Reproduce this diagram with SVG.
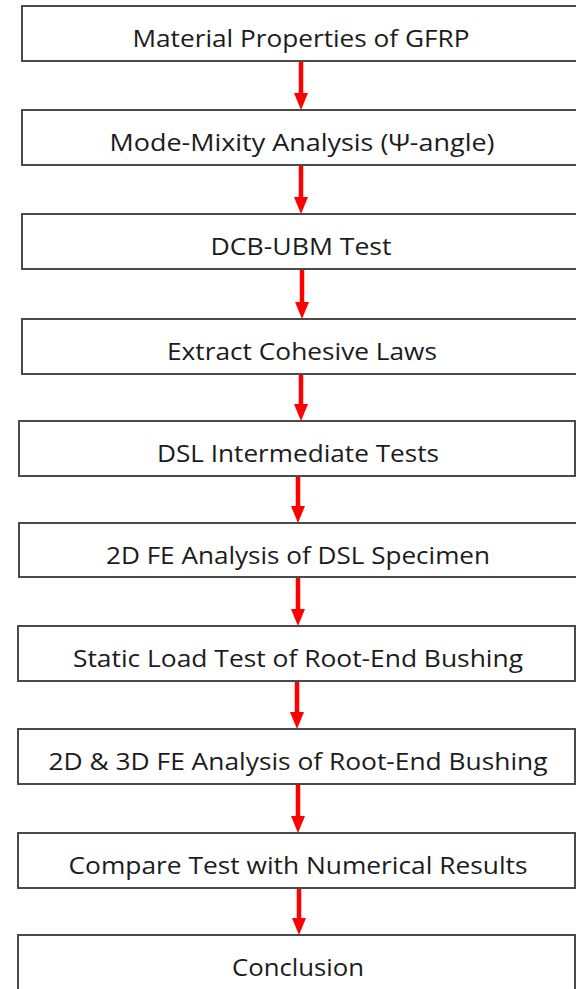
<svg xmlns="http://www.w3.org/2000/svg" width="576" height="989" viewBox="0 0 576 989">
  <style>
    .box { fill: #ffffff; stroke: #4a4a4a; stroke-width: 2; }
    .lbl { font-family: "Open Sans", "Liberation Sans", sans-serif; font-size: 24.5px; fill: #1c1c1c; text-anchor: middle; }
    .flow { stroke: #ff0000; stroke-width: 4.5; fill: none; }
    .tip { fill: #ff0000; }
  </style>
  <rect width="576" height="989" fill="#ffffff"/>

  <!-- process steps -->
  <g id="step1"><rect class="box" x="22" y="6" width="560" height="55"/><text class="lbl" x="301" y="47" textLength="337" lengthAdjust="spacingAndGlyphs">Material Properties of GFRP</text></g>
  <g id="step2"><rect class="box" x="22" y="110" width="560" height="55"/><text class="lbl" x="302" y="151" textLength="385" lengthAdjust="spacingAndGlyphs">Mode-Mixity Analysis (Ψ-angle)</text></g>
  <g id="step3"><rect class="box" x="22" y="214" width="560" height="55"/><text class="lbl" x="301" y="255" textLength="181" lengthAdjust="spacingAndGlyphs">DCB-UBM Test</text></g>
  <g id="step4"><rect class="box" x="22" y="319" width="560" height="55"/><text class="lbl" x="302" y="360" textLength="270" lengthAdjust="spacingAndGlyphs">Extract Cohesive Laws</text></g>
  <g id="step5"><rect class="box" x="19" y="421" width="556" height="55"/><text class="lbl" x="298" y="462" textLength="282" lengthAdjust="spacingAndGlyphs">DSL Intermediate Tests</text></g>
  <g id="step6"><rect class="box" x="19" y="523" width="563" height="54"/><text class="lbl" x="298" y="564" textLength="384" lengthAdjust="spacingAndGlyphs">2D FE Analysis of DSL Specimen</text></g>
  <g id="step7"><rect class="box" x="18" y="626" width="557" height="55"/><text class="lbl" x="298" y="667" textLength="450" lengthAdjust="spacingAndGlyphs">Static Load Test of Root-End Bushing</text></g>
  <g id="step8"><rect class="box" x="18" y="729" width="557" height="55"/><text class="lbl" x="298" y="770" textLength="499" lengthAdjust="spacingAndGlyphs">2D &amp; 3D FE Analysis of Root-End Bushing</text></g>
  <g id="step9"><rect class="box" x="18" y="833" width="557" height="55"/><text class="lbl" x="298" y="874" textLength="459" lengthAdjust="spacingAndGlyphs">Compare Test with Numerical Results</text></g>
  <g id="step10"><rect class="box" x="18" y="935" width="557" height="60"/><text class="lbl" x="298" y="976" textLength="132" lengthAdjust="spacingAndGlyphs">Conclusion</text></g>

  <!-- connectors -->
  <g id="connectors">
    <line class="flow" x1="301" y1="62" x2="301" y2="95"/><polygon class="tip" points="294,93 308,93 301,110"/>
    <line class="flow" x1="301" y1="166" x2="301" y2="199"/><polygon class="tip" points="294,197 308,197 301,214"/>
    <line class="flow" x1="302" y1="270" x2="302" y2="304"/><polygon class="tip" points="295,302 309,302 302,319"/>
    <line class="flow" x1="301" y1="375" x2="301" y2="406"/><polygon class="tip" points="294,404 308,404 301,421"/>
    <line class="flow" x1="298" y1="477" x2="298" y2="508"/><polygon class="tip" points="291,506 305,506 298,523"/>
    <line class="flow" x1="298" y1="578" x2="298" y2="611"/><polygon class="tip" points="291,609 305,609 298,626"/>
    <line class="flow" x1="297" y1="682" x2="297" y2="714"/><polygon class="tip" points="290,712 304,712 297,729"/>
    <line class="flow" x1="298" y1="785" x2="298" y2="818"/><polygon class="tip" points="291,816 305,816 298,833"/>
    <line class="flow" x1="299" y1="889" x2="299" y2="920"/><polygon class="tip" points="292,918 306,918 299,935"/>
  </g>
</svg>
